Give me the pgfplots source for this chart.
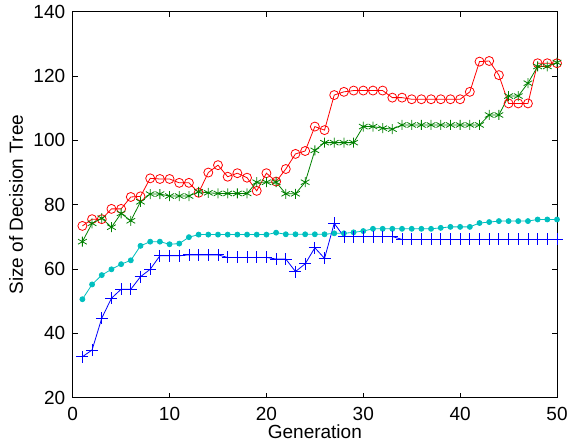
\documentclass[border=0pt]{standalone}
\usepackage{pgfplots}
\pgfplotsset{compat=1.18}
\usepackage{fontspec}
\setmainfont{Liberation Sans}
\definecolor{mred}{RGB}{255,0,0}
\definecolor{mgreen}{RGB}{0,128,0}
\definecolor{mcyan}{RGB}{0,191,191}
\definecolor{mblue}{RGB}{0,0,255}
\begin{document}
\fontsize{19bp}{23bp}\selectfont
\begin{tikzpicture}
\begin{axis}[
  name=ax,
  at={(0,0)}, anchor=south west,
  width=484.3bp, height=385.8bp, scale only axis,
  xmin=0, xmax=50, ymin=20, ymax=140,
  xtick={0,10,20,30,40,50},
  ytick={20,40,60,80,100,120,140},
  tick align=inside,
  major tick length=5bp,
  axis line style={line width=0.9bp},
  every tick/.style={line width=0.8bp, black},
  /pgf/number format/assume math mode=true,
  tick label style={font=\fontsize{19bp}{23bp}\selectfont},
  xticklabel style={yshift=-3bp},
  yticklabel style={xshift=-1bp},
  label style={font=\fontsize{19bp}{23bp}\selectfont},
  xlabel={Generation},
  ylabel={Size of Decision Tree},
  every axis x label/.style={at={(axis description cs:0.5,-0.106)}, anchor=base},
  every axis y label/.style={at={(axis description cs:-0.103,0.5)}, anchor=base, rotate=90},
  clip=false,
]
\addplot[mred, line width=0.8bp, mark=o, mark size=4.5bp, mark options={line width=0.8bp}] coordinates {
(1,73.4)(2,75.5)(3,75.5)(4,78.7)(5,78.7)(6,82.4)(7,82.6)(8,88.2)(9,88.0)(10,88.0)
(11,86.8)(12,86.8)(13,83.7)(14,90.0)(15,92.3)(16,88.7)(17,89.8)(18,88.4)(19,84.3)(20,89.8)
(21,87.2)(22,91.1)(23,95.8)(24,96.7)(25,104.3)(26,103.2)(27,114.1)(28,115.1)(29,115.5)(30,115.5)
(31,115.5)(32,115.5)(33,113.3)(34,113.3)(35,112.8)(36,112.8)(37,112.8)(38,112.8)(39,112.8)(40,112.8)
(41,115.1)(42,124.5)(43,124.7)(44,120.3)(45,111.5)(46,111.5)(47,111.5)(48,124.0)(49,124.0)(50,124.0)
};
\addplot[mgreen, line width=0.8bp, mark=asterisk, mark size=5bp, mark options={line width=0.8bp}] coordinates {
(1,68.5)(2,74.2)(3,75.8)(4,73.0)(5,77.3)(6,75.0)(7,80.9)(8,83.3)(9,83.3)(10,82.7)
(11,82.7)(12,82.7)(13,84.0)(14,83.7)(15,83.5)(16,83.5)(17,83.5)(18,83.5)(19,87.0)(20,87.0)
(21,87.0)(22,83.4)(23,83.4)(24,87.0)(25,96.9)(26,99.3)(27,99.3)(28,99.3)(29,99.3)(30,104.3)
(31,104.3)(32,103.8)(33,103.5)(34,104.8)(35,104.8)(36,104.8)(37,104.8)(38,104.8)(39,104.8)(40,104.8)
(41,104.8)(42,104.8)(43,107.9)(44,107.9)(45,113.8)(46,113.8)(47,117.8)(48,123.0)(49,123.0)(50,124.2)
};
\addplot[mcyan, line width=0.8bp, mark=*, mark size=2.5bp] coordinates {
(1,50.6)(2,55.2)(3,58.1)(4,59.9)(5,61.5)(6,62.7)(7,67.2)(8,68.5)(9,68.5)(10,67.7)
(11,67.9)(12,69.9)(13,70.7)(14,70.7)(15,70.7)(16,70.7)(17,70.7)(18,70.7)(19,70.7)(20,70.7)
(21,71.3)(22,70.8)(23,70.8)(24,70.8)(25,70.8)(26,70.8)(27,71.1)(28,71.1)(29,71.4)(30,71.8)
(31,72.5)(32,72.5)(33,72.5)(34,72.5)(35,72.5)(36,72.5)(37,72.5)(38,72.8)(39,73.1)(40,73.1)
(41,73.1)(42,74.3)(43,74.6)(44,74.9)(45,74.9)(46,74.9)(47,74.9)(48,75.4)(49,75.4)(50,75.4)
};
\addplot[mblue, line width=0.8bp, mark=+, mark size=6bp, mark options={line width=0.8bp}] coordinates {
(1,32.7)(2,34.8)(3,44.7)(4,50.9)(5,53.7)(6,53.7)(7,57.6)(8,59.9)(9,64.1)(10,64.1)
(11,64.1)(12,64.4)(13,64.4)(14,64.4)(15,64.4)(16,63.6)(17,63.6)(18,63.6)(19,63.6)(20,63.6)
(21,63.1)(22,63.1)(23,59.2)(24,61.6)(25,66.6)(26,63.3)(27,74.2)(28,70.1)(29,70.1)(30,70.1)
(31,70.1)(32,70.1)(33,70.1)(34,69.2)(35,69.2)(36,69.2)(37,69.2)(38,69.2)(39,69.2)(40,69.2)
(41,69.2)(42,69.2)(43,69.2)(44,69.2)(45,69.2)(46,69.2)(47,69.2)(48,69.2)(49,69.2)(50,69.2)
};
\end{axis}
\pgfresetboundingbox
\path[use as bounding box] (-72.7bp,-44.4bp) rectangle (496.3bp,397.6bp);
\end{tikzpicture}
\end{document}
